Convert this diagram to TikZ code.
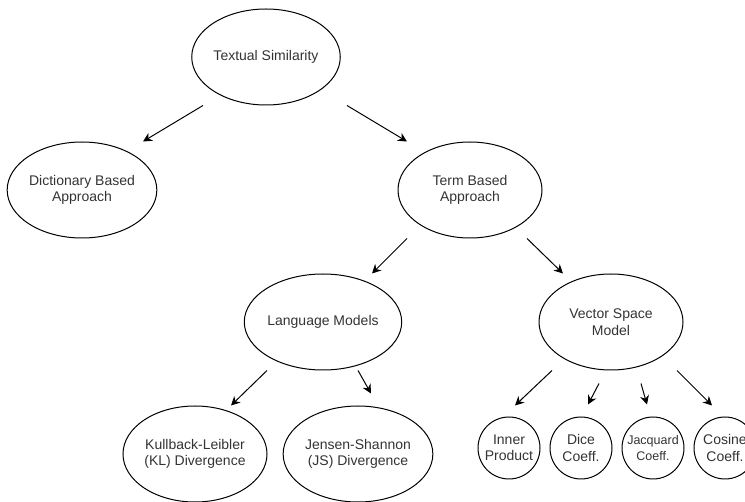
\documentclass[tikz,border=0pt]{standalone}
\usepackage{fontspec}
\setmainfont{Liberation Sans}
\usetikzlibrary{arrows.meta,shapes.geometric}
\definecolor{ink}{HTML}{333333}
\newcommand{\lbl}{\fontsize{14}{16.5}\selectfont}
\tikzset{
  oval/.style={ellipse,draw=black,line width=1pt,minimum width=144pt,minimum height=96pt,
    inner sep=0pt,align=center,text=ink,font=\lbl},
  coin/.style={circle,draw=black,line width=1pt,minimum size=62pt,inner sep=0pt,
    align=center,text=ink,font=\lbl},
  arr/.style={black,line width=1pt,-{Stealth[length=9pt,width=9pt]}}
}
\begin{document}
\begin{tikzpicture}[x=1pt,y=-1pt]
\useasboundingbox (0,0) rectangle (745,502);
% ovals
\node[oval] (ts) at (266,57) {Textual Similarity};
\node[oval] (dict) at (82,190) {Dictionary Based\\Approach};
\node[oval] (term) at (470,190) {Term Based\\Approach};
\node[oval] (lm) at (323,322) {Language Models};
\node[oval] (vsm) at (611,322) {Vector Space\\Model};
\node[oval] (kl) at (195,454) {Kullback-Leibler\\(KL) Divergence};
\node[oval] (js) at (358,454) {Jensen-Shannon\\(JS) Divergence};
% coefficients
\node[coin] (inner) at (509,448) {Inner\\Product};
\node[coin] (dice) at (581,448) {Dice\\Coeff.};
\node[coin,font=\fontsize{12.5}{16}\selectfont] (jac) at (653,448) {Jacquard\\Coeff.};
\node[coin] (cos) at (725,448) {Cosine\\Coeff.};
% arrows
\draw[arr] ([xshift=-63pt]ts.south) -- ([xshift=61pt]dict.north);
\draw[arr] ([xshift=81pt]ts.south) -- ([xshift=-63pt]term.north);
\draw[arr] ([xshift=-63pt]term.south) -- ([xshift=49pt]lm.north);
\draw[arr] ([xshift=57pt]term.south) -- ([xshift=-48pt]vsm.north);
\draw[arr] ([xshift=-56pt]lm.south) -- ([xshift=36pt]kl.north);
\draw[arr] ([xshift=35pt]lm.south) -- ([xshift=13pt,yshift=12pt]js.north);
\draw[arr] ([xshift=-59pt]vsm.south) -- ([xshift=6pt,yshift=11pt]inner.north);
\draw[arr] ([xshift=-12pt,yshift=-13pt]vsm.south) -- ([xshift=7pt,yshift=12pt]dice.north);
\draw[arr] ([xshift=30pt,yshift=-13pt]vsm.south) -- ([xshift=-6pt,yshift=12pt]jac.north);
\draw[arr] ([xshift=66pt]vsm.south) -- ([xshift=-13pt,yshift=11pt]cos.north);
\end{tikzpicture}
\end{document}
